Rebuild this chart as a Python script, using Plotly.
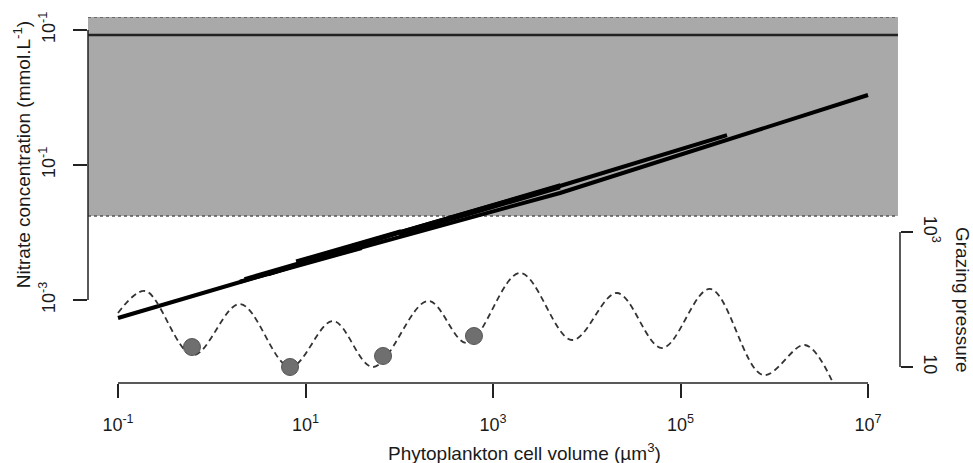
import plotly.graph_objects as go

# ---------------- data ----------------
x_ticks = [1e-1, 1e1, 1e3, 1e5, 1e7]
x_ticktext = ["10<sup>-1</sup>", "10<sup>1</sup>", "10<sup>3</sup>", "10<sup>5</sup>", "10<sup>7</sup>"]
y_ticks = [1e1, 1e-1, 1e-3]
y_ticktext = ["10<sup>-1</sup>", "10<sup>-1</sup>", "10<sup>-3</sup>"]
g_ticks = [10, 1e3]
g_ticktext = ["10", "10<sup>3</sup>"]

# nitrate range band and maximum line (mmol/L)
band_low = 10 ** -1.756
band_high = 10 ** 1.193
nitrate_max = 10 ** 0.926

# nitrate requirement lines (cell volume, nitrate)
lineA_vol = [10 ** -1, 10 ** 1.0, 10 ** 3.715, 10 ** 7]
lineA_nit = [10 ** -3.267, 10 ** -2.45, 10 ** -1.415, 10 ** 0.037]
lineB_vol = [10 ** 1.5, 10 ** 3.715, 10 ** 5.496]
lineB_nit = [10 ** -2.20, 10 ** -1.311, 10 ** -0.556]
lineC_vol = [10 ** 0.6, 10 ** 2.0]
lineC_nit = [10 ** -2.62, 10 ** -2.00]
lineD_vol = [10 ** 2.0, 10 ** 3.715]
lineD_nit = [10 ** -2.03, 10 ** -1.33]
lineE_vol = [10 ** 0.3, 10 ** 1.6]
lineE_nit = [10 ** -2.73, 10 ** -2.23]
lineF_vol = [10 ** 1.6, 10 ** 3.72]
lineF_nit = [10 ** -2.16, 10 ** -1.30]
lineG_vol = [10 ** 0.9, 10 ** 2.02]
lineG_nit = [10 ** -2.43, 10 ** -1.98]
lineH_vol = [10 ** 0.35, 10 ** 1.0]
lineH_nit = [10 ** -2.69, 10 ** -2.43]

# grazing pressure curve
graz_vol = [10 ** v for v in [-1.0, -0.712, -0.2, 0.301, 0.835, 1.293, 1.72, 2.307, 2.723,
                              3.288, 3.843, 4.323, 4.803, 5.315, 5.88, 6.328, 6.627]]
graz_val = [10 ** v for v in [1.8, 2.126, 1.178, 1.933, 1.0, 1.681, 1.0, 1.978, 1.356,
                              2.393, 1.4, 2.096, 1.281, 2.156, 0.881, 1.326, 0.763]]

# grazing minima points
dot_vol = [10 ** -0.211, 10 ** 0.835, 10 ** 1.827, 10 ** 2.797]
dot_val = [10 ** 1.296, 10 ** 1.0, 10 ** 1.163, 10 ** 1.459]

# ---------------- figure ----------------
FONT = "Liberation Sans, Arial, Helvetica, sans-serif"
TXT = "#1a1a1a"
fig = go.Figure()

for vx, vy in [(lineA_vol, lineA_nit), (lineB_vol, lineB_nit), (lineC_vol, lineC_nit),
               (lineD_vol, lineD_nit), (lineE_vol, lineE_nit), (lineF_vol, lineF_nit),
               (lineG_vol, lineG_nit), (lineH_vol, lineH_nit)]:
    fig.add_trace(go.Scatter(x=vx, y=vy, mode="lines", line=dict(color="black", width=4),
                             showlegend=False, hoverinfo="skip"))

fig.add_trace(go.Scatter(x=graz_vol, y=graz_val, mode="lines", yaxis="y2",
                         line=dict(color="#333333", width=1.8, dash="6px,4px", shape="spline", smoothing=1.0),
                         showlegend=False, hoverinfo="skip"))
fig.add_trace(go.Scatter(x=dot_vol, y=dot_val, mode="markers", yaxis="y2",
                         marker=dict(size=17, color="#6f6f6f", line=dict(color="#555555", width=1)),
                         showlegend=False, hoverinfo="skip"))

shapes = []
# gray band
shapes.append(dict(type="rect", xref="paper", yref="y", x0=0, x1=0.9975,
                   y0=band_low, y1=band_high,
                   fillcolor="#a9a9a9", line=dict(width=0), layer="below"))
for yv in [band_low, band_high]:
    shapes.append(dict(type="line", xref="paper", yref="y", x0=0, x1=0.9975,
                       y0=yv, y1=yv,
                       line=dict(color="#555555", width=1.5, dash="dot"), layer="below"))
# maximum line
shapes.append(dict(type="line", xref="paper", yref="y", x0=0, x1=0.9975,
                   y0=nitrate_max, y1=nitrate_max,
                   line=dict(color="#222222", width=2.5)))
# axis lines (R style: only over tick range)
shapes.append(dict(type="line", xref="x", yref="paper", x0=x_ticks[0], x1=x_ticks[-1],
                   y0=0, y1=0, line=dict(color="#222222", width=1.5)))
shapes.append(dict(type="line", xref="paper", yref="y", x0=0, x1=0,
                   y0=min(y_ticks), y1=max(y_ticks), line=dict(color="#222222", width=1.5)))
shapes.append(dict(type="line", xref="paper", yref="y2", x0=1, x1=1,
                   y0=min(g_ticks), y1=max(g_ticks), line=dict(color="#222222", width=1.5)))

annotations = [
    dict(text="Phytoplankton cell volume (µm<sup>3</sup>)", xref="paper", yref="paper",
         x=0.538, y=-0.1885, xanchor="center", yanchor="middle", showarrow=False,
         font=dict(size=19, color=TXT, family=FONT)),
    dict(text="Nitrate concentration (mmol.L<sup>-1</sup>)", xref="paper", yref="paper",
         x=-0.0813, y=0.625, xanchor="center", yanchor="middle", textangle=-90, showarrow=False,
         font=dict(size=19, color=TXT, family=FONT)),
    dict(text="Grazing pressure", xref="paper", yref="paper",
         x=1.0764, y=0.2268, xanchor="center", yanchor="middle", textangle=90, showarrow=False,
         font=dict(size=19, color=TXT, family=FONT)),
]

fig.update_layout(
    width=973, height=463,
    margin=dict(l=88, r=73, t=17, b=80),
    paper_bgcolor="white", plot_bgcolor="white",
    shapes=shapes, annotations=annotations,
    xaxis=dict(type="log", range=[-1.32, 7.3413], showgrid=False, zeroline=False, showline=False,
               tickvals=x_ticks, ticktext=x_ticktext, ticks="outside", ticklen=14, tickwidth=1.5,
               tickcolor="#222222", ticklabelstandoff=11,
               tickfont=dict(size=18, color=TXT, family=FONT)),
    yaxis=dict(type="log", range=[-4.23, 1.193], showgrid=False, zeroline=False, showline=False,
               tickvals=y_ticks, ticktext=y_ticktext, ticks="outside", ticklen=14, tickwidth=1.5,
               tickcolor="#222222", tickangle=-90, ticklabelstandoff=11,
               tickfont=dict(size=18, color=TXT, family=FONT)),
    yaxis2=dict(type="log", range=[0.763, 6.185], overlaying="y", side="right", anchor="x",
                showgrid=False, zeroline=False, showline=False,
                tickvals=g_ticks, ticktext=g_ticktext, ticks="outside", ticklen=12, tickwidth=1.5,
                tickcolor="#222222", tickangle=90, ticklabelstandoff=4,
                tickfont=dict(size=18, color=TXT, family=FONT)),
)

fig.write_html("out.html")
